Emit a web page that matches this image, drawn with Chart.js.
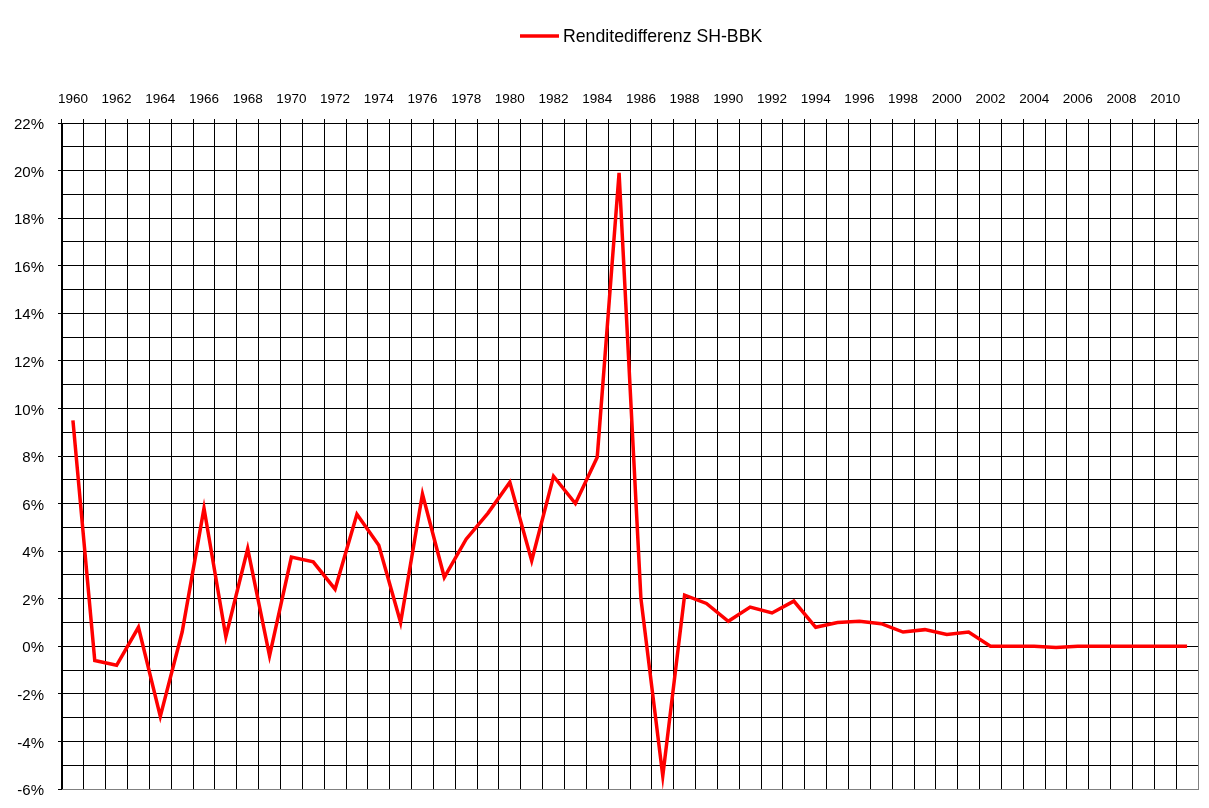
<!DOCTYPE html>
<html>
<head>
<meta charset="utf-8">
<script src="https://cdn.jsdelivr.net/npm/chart.js@4.4.0/dist/chart.umd.min.js"></script>
<style>
  html, body { margin: 0; padding: 0; background: #fff; }
  #wrap { width: 1209px; height: 808px; position: relative; }
</style>
</head>
<body>
<div id="wrap"><canvas id="c" width="1209" height="808"></canvas></div>
<script>
const years = [];
for (let y = 1960; y <= 2011; y++) years.push(String(y));

const seriesName = 'Renditedifferenz SH-BBK';
const spread = [
  9.5, -0.6, -0.8, 0.8, -2.95, 0.6, 5.8, 0.4, 4.1, -0.4,
  3.75, 3.55, 2.4, 5.55, 4.25, 1.0, 6.4, 2.9, 4.5, 5.6,
  6.9, 3.6, 7.15, 6.0, 7.95, 19.9, 2.0, -5.45, 2.15, 1.8,
  1.05, 1.65, 1.4, 1.9, 0.8, 1.0, 1.05, 0.95, 0.6, 0.7,
  0.5, 0.6, 0.0, 0.0, 0.0, -0.05, 0.0, 0.0, 0.0, 0.0,
  0.0, 0.0
];

const yMin = -6, yMax = 22, yStep = 1;

Chart.defaults.font.family = '"Liberation Sans", Arial, sans-serif';
Chart.defaults.color = '#000';

const frame = {
  id: 'frame',
  afterDraw(chart) {
    const a = chart.chartArea, ctx = chart.ctx;
    ctx.save();
    ctx.strokeStyle = '#808080';
    ctx.lineWidth = 1;
    ctx.beginPath();
    ctx.moveTo(Math.round(a.right) + 0.5, Math.round(a.top));
    ctx.lineTo(Math.round(a.right) + 0.5, Math.round(a.bottom) + 1);
    ctx.moveTo(Math.round(a.left), Math.round(a.bottom) + 0.5);
    ctx.lineTo(Math.round(a.right) + 1, Math.round(a.bottom) + 0.5);
    ctx.stroke();
    // legend
    const ds = chart.data.datasets[0];
    ctx.strokeStyle = ds.borderColor;
    ctx.lineWidth = 3.5;
    ctx.beginPath();
    ctx.moveTo(520, 36);
    ctx.lineTo(559, 36);
    ctx.stroke();
    ctx.fillStyle = '#000';
    ctx.font = '17.7px "Liberation Sans", Arial, sans-serif';
    ctx.textBaseline = 'middle';
    ctx.textAlign = 'left';
    ctx.fillText(ds.label, 563, 37);
    ctx.restore();
  }
};

new Chart(document.getElementById('c'), {
  type: 'line',
  data: {
    labels: years,
    datasets: [{
      label: seriesName,
      data: spread,
      borderColor: '#ff0000',
      backgroundColor: '#ff0000',
      borderWidth: 3.5,
      pointRadius: 0,
      tension: 0,
      fill: false
    }]
  },
  options: {
    responsive: false,
    animation: false,
    devicePixelRatio: 1,
    layout: { padding: { top: 60, left: 0, right: 11, bottom: 19 } },
    plugins: { legend: { display: false }, tooltip: { enabled: false } },
    scales: {
      x: {
        type: 'category',
        position: 'top',
        offset: true,
        grid: { offset: true, color: '#000', lineWidth: 1, tickLength: 4, tickColor: '#000', drawOnChartArea: true },
        border: { color: '#000', width: 1 },
        ticks: {
          autoSkip: false, maxRotation: 0, minRotation: 0, padding: 12,
          font: { size: 13.5 },
          callback: function(v, i) { return i % 2 === 0 ? this.getLabelForValue(v) : ''; }
        },
        afterFit(scale) { scale.height = 63; scale.paddingLeft = 0; scale.paddingRight = 0; }
      },
      y: {
        min: yMin, max: yMax,
        grid: {
          color: '#000', lineWidth: 1, tickLength: 4,
          tickColor: (ctx) => (ctx.tick && Math.abs(Math.round(ctx.tick.value)) % 2 === 0) ? '#000' : 'rgba(0,0,0,0)'
        },
        border: { color: '#000', width: 1 },
        ticks: {
          stepSize: yStep, padding: 14, font: { size: 15 }, labelOffset: 2,
          callback: (v) => (Math.abs(Math.round(v)) % 2 === 0) ? v + '%' : ''
        },
        afterFit(scale) { scale.width = 62; scale.paddingTop = 0; scale.paddingBottom = 0; }
      }
    }
  },
  plugins: [frame]
});
</script>
</body>
</html>
